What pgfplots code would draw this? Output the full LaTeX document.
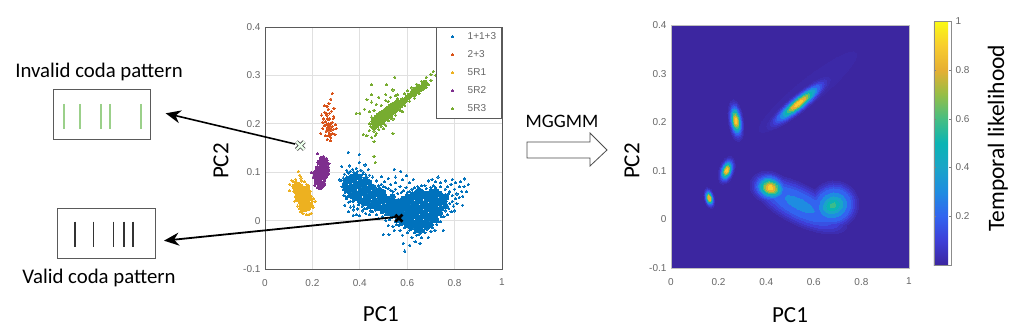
\documentclass[border=0pt]{standalone}
\usepackage{fontspec}
\setmainfont{Carlito}
\newfontfamily\tickfont{Liberation Sans}
\usepackage{pgfplots}
\pgfplotsset{compat=1.18}
\usetikzlibrary{arrows.meta}
\definecolor{cblue}{HTML}{0072BD}
\definecolor{corange}{HTML}{D95319}
\definecolor{cyellow}{HTML}{EDB120}
\definecolor{cpurple}{HTML}{7E2F8E}
\definecolor{cgreen}{HTML}{77AC30}
\definecolor{navy}{RGB}{60,38,160}
\definecolor{tickgray}{HTML}{666666}
\definecolor{framegray}{HTML}{5A5A5A}
\definecolor{barsgreen}{HTML}{9BD08A}

\pgfplotsset{
  colormap={parula}{
    rgb255(0)=(60,38,160) rgb255(1)=(62,62,215) rgb255(2)=(50,100,240)
    rgb255(3)=(30,140,225) rgb255(4)=(25,165,200) rgb255(5)=(10,180,180)
    rgb255(6)=(70,190,130) rgb255(7)=(150,190,70) rgb255(8)=(230,175,50)
    rgb255(9)=(248,205,45) rgb255(10)=(250,250,20)
  },
  ticktext/.style={
    tick label style={font=\tickfont\fontsize{10}{11}\selectfont, text=tickgray},
    /pgf/number format/assume math mode=true,
    /pgf/number format/fixed,
  },
  pc axis/.style={
    scale only axis,
    xmin=0, xmax=1, ymin=-0.1, ymax=0.4,
    xtick={0,0.2,0.4,0.6,0.8,1},
    ytick={-0.1,0,0.1,0.2,0.3,0.4},
    major tick length=0pt,
    ticktext,
    xticklabel style={yshift=-6.5pt},
    yticklabel style={xshift=-1pt},
  },
  pts/.style={only marks, mark=*, mark size=1.1pt, mark options={draw=#1, fill=#1, line width=0pt}},
  core/.style={only marks, mark=*, forget plot, mark options={draw=#1, fill=#1, line width=0pt}},
}

% one contour of the likelihood map: x, y, level, semi axes in px, angle
\newcommand{\blob}[6]{%
  \addplot[scatter, only marks, mark=*, mark size=1pt, forget plot, scatter src=explicit,
    scatter/use mapped color={draw=mapped color, fill=mapped color},
    mark options={line width=0pt, rotate=#6, xscale=#4, yscale=#5}] coordinates {(#1,#2) [#3]};
}
\newcommand{\labelfont}{\fontsize{23}{26}\selectfont}

\begin{document}
\begin{tikzpicture}
\path[use as bounding box] (0,0) rectangle (1013pt,329pt);

% left: scatter of the coda clusters
\begin{axis}[
  pc axis,
  at={(265pt,60pt)}, anchor=south west,
  width=237pt, height=242pt,
  axis line style={draw=framegray, line width=0.8pt},
  grid=major,
  major grid style={draw=black!12, line width=0.8pt},
  xlabel={PC1}, ylabel={PC2},
  every axis x label/.style={at={(axis description cs:0.489,-0.186)}, anchor=center, font=\labelfont},
  every axis y label/.style={at={(axis description cs:-0.186,0.446)}, anchor=center, rotate=90, font=\labelfont},
  legend image code/.code={
    \draw[#1] plot coordinates {(13pt,0pt)};
    \path[draw=none] (0pt,0pt) -- (26pt,0pt);
  },
  legend style={
    at={(1,1)}, anchor=north east, draw=framegray, line width=0.8pt,
    font=\tickfont\fontsize{10}{11}\selectfont, text=tickgray,
    row sep=5.6pt, inner xsep=3.5pt, inner ysep=3pt,
    legend cell align=left,
  },
]
% dense part of each cluster, larger marks
\addplot[core=cblue, mark size=2.8pt] coordinates {
(.342,.066)(.338,.076)(.346,.085)
(.362,.052)(.357,.061)(.363,.07)(.358,.081)(.364,.09)
(.378,.046)(.383,.056)(.376,.065)(.382,.075)(.377,.085)(.383,.094)
(.402,.041)(.397,.05)(.403,.061)(.398,.07)(.404,.08)(.399,.09)
(.418,.036)(.423,.045)(.417,.056)(.422,.065)(.418,.075)(.423,.085)
(.442,.031)(.437,.04)(.443,.05)(.438,.06)(.444,.07)(.439,.079)
(.458,.03)(.463,.041)(.457,.05)(.463,.06)(.458,.069)
(.482,.026)(.477,.035)(.483,.046)(.478,.054)(.483,.063)
(.498,.021)(.503,.03)(.497,.04)(.503,.05)(.498,.059)
(.522,.016)(.517,.025)(.523,.035)(.518,.045)
(.538,.011)(.543,.02)(.537,.03)(.543,.04)(.538,.05)
(.562,.001)(.557,.01)(.563,.02)(.558,.03)(.563,.04)
(.578,-.004)(.583,.006)(.577,.015)(.583,.025)(.578,.035)(.583,.045)
(.602,-.009)(.597,0)(.603,.01)(.598,.02)(.603,.03)(.598,.04)(.602,.05)
(.618,-.014)(.623,-.005)(.617,.005)(.623,.015)(.618,.025)(.623,.035)(.618,.045)(.622,.054)
(.642,-.019)(.637,-.01)(.643,0)(.637,.01)(.643,.02)(.638,.03)(.643,.04)(.638,.05)(.642,.059)
(.658,-.02)(.663,-.01)(.657,0)(.663,.01)(.658,.02)(.663,.03)(.657,.04)(.663,.05)(.658,.06)
(.682,-.014)(.677,-.005)(.683,.005)(.677,.015)(.683,.025)(.678,.035)(.683,.045)(.678,.055)
(.698,-.009)(.703,0)(.697,.01)(.703,.02)(.698,.03)(.703,.04)(.698,.05)(.702,.06)
(.722,.001)(.717,.011)(.723,.021)(.718,.03)(.722,.04)(.717,.05)(.722,.06)
(.738,.016)(.743,.026)(.737,.036)(.743,.045)(.738,.055)
(.762,.03)(.757,.04)(.762,.05)
};
\addplot[core=corange, mark size=1.5pt] coordinates {
(.268,.2)(.274,.194)(.279,.188)(.27,.186)(.265,.192)(.277,.2)(.264,.21)(.26,.218)(.272,.21)
};
\addplot[core=cyellow, mark size=3pt] coordinates {
(.135,.074)(.142,.068)(.15,.07)(.148,.06)(.156,.062)(.165,.064)(.14,.055)(.15,.05)(.16,.052)(.17,.054)
(.152,.04)(.162,.042)(.172,.044)(.158,.032)(.168,.034)(.178,.036)(.172,.025)(.182,.027)(.19,.032)(.164,.024)
(.132,.062)(.142,.046)(.127,.07)(.18,.056)(.186,.046)(.176,.066)
};
\addplot[core=cpurple, mark size=2.6pt] coordinates {
(.219,.08)(.228,.078)(.222,.09)(.232,.088)(.24,.09)(.228,.098)(.238,.098)(.248,.1)(.232,.108)(.242,.108)(.252,.11)
(.238,.116)(.248,.118)(.256,.116)(.243,.124)(.252,.125)
(.215,.1)(.222,.108)(.262,.105)(.26,.097)(.25,.09)(.215,.09)(.23,.12)(.245,.076)(.235,.07)
};
\addplot[core=cgreen, mark size=2.6pt] coordinates {
(.46,.193)(.46,.201)(.46,.209)(.47,.197)(.47,.205)(.47,.213)(.48,.201)(.48,.209)(.48,.217)
(.49,.205)(.49,.213)(.49,.221)(.50,.208)(.50,.216)(.50,.224)(.51,.212)(.51,.22)(.51,.228)
(.52,.216)(.52,.224)(.52,.232)(.53,.22)(.53,.228)(.53,.236)(.54,.225)(.54,.232)(.54,.239)
(.55,.229)(.55,.235)(.55,.241)(.56,.234)(.56,.239)(.56,.245)(.57,.238)(.57,.243)(.58,.243)(.58,.248)
(.59,.248)(.60,.254)(.61,.258)(.62,.262)(.63,.262)(.63,.268)(.64,.267)(.64,.272)(.65,.271)(.65,.276)
(.66,.274)(.67,.28)(.675,.285)
};
% whole clusters
\addplot[pts=cblue] coordinates {
(.351,.141)(.398,.137)(.398,.12)(.323,.112)(.358,.113)(.422,.115)(.436,.106)(.345,.104)(.37,.106)(.385,.108)
(.405,.104)(.415,.1)(.335,.096)(.352,.098)(.425,.095)(.44,.094)(.455,.09)(.33,.088)(.322,.083)(.316,.084)
(.333,.076)(.325,.07)(.338,.058)(.333,.052)(.345,.045)(.352,.038)(.337,.032)(.351,.018)(.372,.011)(.4,.01)
(.36,.028)(.375,.03)(.39,.024)(.385,.012)(.41,.02)(.425,.015)(.43,.025)(.44,.012)(.455,.018)(.47,.012)
(.48,.004)(.495,.008)(.51,0)(.525,.002)(.52,-.01)(.54,-.012)(.555,-.008)(.545,-.02)(.57,-.02)(.58,-.03)
(.6,-.025)(.59,-.015)(.499,-.029)(.523,-.029)(.583,-.047)(.59,-.063)(.611,-.051)(.633,-.044)(.654,-.047)(.689,-.035)
(.717,-.02)(.752,-.02)(.62,-.035)(.64,-.03)(.66,-.035)(.675,-.025)(.7,-.022)(.69,-.012)(.725,-.008)(.74,-.002)
(.755,.008)(.77,.012)(.785,.018)(.801,.02)(.775,.025)(.795,.03)(.81,.035)(.834,.032)(.79,.04)(.805,.045)
(.82,.048)(.835,.05)(.85,.06)(.83,.06)(.81,.055)(.79,.052)(.78,.06)(.8,.065)(.82,.07)(.84,.07)
(.858,.075)(.841,.086)(.825,.08)(.805,.078)(.785,.075)(.77,.07)(.79,.085)(.76,.082)(.74,.078)(.72,.08)
(.73,.09)(.705,.085)(.69,.082)(.71,.072)(.675,.072)(.66,.072)(.645,.07)(.626,.085)(.597,.093)(.573,.102)
(.545,.106)(.52,.087)(.492,.091)(.55,.09)(.58,.085)(.61,.078)(.505,.08)(.47,.082)(.49,.075)(.53,.075)
(.55,.078)(.57,.07)(.595,.068)(.62,.065)(.51,.068)(.53,.063)(.55,.065)(.575,.058)(.6,.058)
(.35,.1)(.36,.102)(.375,.1)(.39,.102)(.41,.095)(.43,.09)(.345,.09)(.335,.082)(.33,.065)(.34,.05)
(.35,.05)(.36,.04)(.37,.04)(.375,.022)(.395,.033)(.41,.03)(.42,.025)(.445,.02)(.465,.022)(.49,.016)
(.51,.012)(.53,.005)(.55,-.002)(.565,-.01)(.48,.072)(.5,.07)(.52,.066)(.54,.06)(.56,.056)(.585,.062)
(.61,.06)(.63,.068)(.65,.066)(.68,.066)(.7,.068)(.72,.068)(.74,.07)(.76,.065)(.775,.055)(.77,.045)
(.78,.035)(.76,.02)(.745,.008)(.73,-.002)(.705,-.015)(.61,-.02)(.63,-.025)(.65,-.028)(.67,-.02)
};
\addlegendentry{1+1+3}
\addplot[pts=corange] coordinates {
(.284,.263)(.278,.251)(.253,.237)(.267,.23)(.291,.232)(.26,.221)(.239,.218)(.288,.211)(.246,.21)(.252,.224)
(.272,.222)(.281,.226)(.243,.203)(.256,.204)(.283,.203)(.296,.198)(.3,.19)(.29,.189)(.25,.196)(.258,.185)
(.255,.175)(.27,.175)(.285,.18)(.295,.178)(.277,.172)(.275,.165)(.263,.168)(.235,.18)(.244,.19)(.29,.215)
(.262,.236)(.27,.242)(.258,.198)(.284,.195)(.272,.18)(.28,.178)
};
\addlegendentry{2+3}
\addplot[pts=cyellow] coordinates {
(.14,.101)(.147,.094)(.152,.088)(.105,.075)(.112,.083)(.118,.07)(.122,.06)(.103,.062)(.128,.05)(.125,.04)
(.135,.042)(.138,.03)(.145,.025)(.15,.018)(.16,.015)(.175,.012)(.186,.013)(.195,.015)(.203,.028)(.212,.04)
(.2,.04)(.195,.05)(.19,.06)(.185,.072)(.175,.075)(.165,.08)(.155,.082)(.13,.085)(.122,.08)(.205,.045)
};
\addlegendentry{5R1}
\addplot[pts=cpurple] coordinates {
(.223,.138)(.235,.13)(.245,.132)(.26,.128)(.238,.12)(.228,.11)(.222,.105)(.216,.1)(.205,.098)(.195,.1)
(.203,.09)(.212,.085)(.21,.073)(.22,.068)(.23,.066)(.24,.07)(.25,.082)(.258,.09)(.262,.1)(.268,.11)
(.27,.118)(.262,.124)(.217,.092)(.235,.075)(.245,.08)
};
\addlegendentry{5R2}
\addplot[pts=cgreen] coordinates {
(.548,.296)(.513,.281)(.54,.27)(.449,.281)(.45,.26)(.43,.25)(.45,.245)(.48,.255)(.51,.26)(.55,.258)
(.56,.26)(.53,.255)(.51,.248)(.47,.24)(.44,.225)(.42,.23)(.4,.222)(.385,.222)(.46,.228)(.49,.238)
(.52,.246)(.56,.252)(.59,.262)(.6,.268)(.62,.274)(.64,.282)(.66,.288)(.68,.296)(.7,.302)(.71,.308)
(.69,.281)(.67,.272)(.65,.262)(.63,.253)(.61,.247)(.59,.238)(.57,.228)(.55,.218)(.54,.21)(.52,.206)
(.51,.197)(.5,.19)(.48,.188)(.47,.18)(.46,.185)(.44,.186)(.43,.175)(.415,.178)(.45,.172)(.46,.163)
(.465,.176)(.49,.195)(.53,.212)(.58,.225)(.54,.18)(.5,.2)(.72,.3)(.7,.29)(.68,.275)(.44,.2)
(.45,.214)(.45,.205)(.445,.195)(.46,.133)(.465,.12)
};
\addlegendentry{5R3}
% the two patterns marked on the map
\addplot[only marks, mark=x, mark size=5.5pt, forget plot, mark options={draw=black!75, line width=3.8pt}] coordinates {(.149,.155)};
\addplot[only marks, mark=x, mark size=5.5pt, forget plot, mark options={draw=green!8, line width=2.3pt}] coordinates {(.149,.155)};
\addplot[only marks, mark=x, mark size=5pt, forget plot, mark options={draw=black, line width=2.6pt}] coordinates {(.565,.005)};
\end{axis}

% right: temporal likelihood map
\begin{axis}[
  pc axis,
  at={(671pt,61pt)}, anchor=south west,
  width=238pt, height=243pt,
  axis line style={draw=black!25, line width=0.8pt},
  axis background/.style={fill=navy},
  point meta min=0, point meta max=1,
  xlabel={PC1}, ylabel={PC2},
  every axis x label/.style={at={(axis description cs:0.5,-0.193)}, anchor=center, font=\labelfont},
  every axis y label/.style={at={(axis description cs:-0.164,0.44)}, anchor=center, rotate=90, font=\labelfont},
  colorbar,
  colorbar style={
    at={(1.105,1.016)}, anchor=north west,
    width=17pt, height=244pt,
    ytick={0.2,0.4,0.6,0.8,1},
    major tick length=2pt,
    ticktext,
    ylabel={Temporal likelihood},
    every axis y label/.style={at={(axis description cs:3.75,0.52)}, anchor=center, rotate=90, font=\fontsize{23.5}{26}\selectfont},
    axis line style={draw=black!45, line width=0.8pt},
    yticklabel style={xshift=1pt},
  },
]
\blob{0.575}{0.262}{0.012}{62}{12}{39}
\blob{0.161}{0.044}{0.03}{10.5}{5}{103}
\blob{0.234}{0.101}{0.03}{14.5}{7.5}{72}
\blob{0.273}{0.203}{0.03}{21}{7.5}{98}
\blob{0.536}{0.239}{0.03}{40}{9}{39}
\blob{0.418}{0.065}{0.03}{21}{16}{-20}
\blob{0.681}{0.029}{0.03}{26}{24}{25}
\blob{0.541}{0.031}{0.03}{52}{20}{-27}
\blob{0.161}{0.044}{0.06}{9.4}{4.5}{103}
\blob{0.234}{0.101}{0.06}{12.9}{6.7}{72}
\blob{0.273}{0.203}{0.06}{18.8}{6.7}{98}
\blob{0.536}{0.239}{0.06}{35.7}{8}{39}
\blob{0.418}{0.065}{0.06}{18.8}{14.3}{-20}
\blob{0.681}{0.029}{0.06}{24}{22}{25}
\blob{0.541}{0.031}{0.06}{48}{18}{-27}
\blob{0.161}{0.044}{0.1}{8.5}{4}{103}
\blob{0.234}{0.101}{0.1}{11.7}{6}{72}
\blob{0.273}{0.203}{0.1}{16.9}{6}{98}
\blob{0.536}{0.239}{0.1}{32.2}{7.3}{39}
\blob{0.418}{0.065}{0.1}{16.9}{12.9}{-20}
\blob{0.681}{0.029}{0.1}{22}{20}{25}
\blob{0.541}{0.031}{0.1}{44}{16}{-27}
\blob{0.161}{0.044}{0.15}{7.7}{3.7}{103}
\blob{0.234}{0.101}{0.15}{10.6}{5.5}{72}
\blob{0.273}{0.203}{0.15}{15.3}{5.5}{98}
\blob{0.536}{0.239}{0.15}{29.2}{6.6}{39}
\blob{0.418}{0.065}{0.15}{15.3}{11.7}{-20}
\blob{0.681}{0.029}{0.15}{20}{18}{25}
\blob{0.541}{0.031}{0.15}{38}{13.5}{-27}
\blob{0.161}{0.044}{0.2}{7}{3.4}{103}
\blob{0.234}{0.101}{0.2}{9.7}{5}{72}
\blob{0.273}{0.203}{0.2}{14.1}{5}{98}
\blob{0.536}{0.239}{0.2}{26.8}{6}{39}
\blob{0.418}{0.065}{0.2}{14.1}{10.7}{-20}
\blob{0.681}{0.029}{0.2}{18}{16}{25}
\blob{0.541}{0.031}{0.2}{32}{11}{-27}
\blob{0.161}{0.044}{0.3}{6.1}{2.9}{103}
\blob{0.234}{0.101}{0.3}{8.4}{4.3}{72}
\blob{0.273}{0.203}{0.3}{12.1}{4.3}{98}
\blob{0.536}{0.239}{0.3}{23.1}{5.2}{39}
\blob{0.418}{0.065}{0.3}{12.1}{9.2}{-20}
\blob{0.681}{0.029}{0.3}{14}{12}{25}
\blob{0.541}{0.031}{0.3}{16}{5}{-27}
\blob{0.161}{0.044}{0.4}{5.3}{2.5}{103}
\blob{0.234}{0.101}{0.4}{7.3}{3.8}{72}
\blob{0.273}{0.203}{0.4}{10.5}{3.8}{98}
\blob{0.536}{0.239}{0.4}{20}{4.5}{39}
\blob{0.418}{0.065}{0.4}{10.5}{8}{-20}
\blob{0.681}{0.029}{0.4}{10}{8}{25}
\blob{0.161}{0.044}{0.5}{4.5}{2.2}{103}
\blob{0.234}{0.101}{0.5}{6.2}{3.2}{72}
\blob{0.273}{0.203}{0.5}{9.1}{3.2}{98}
\blob{0.536}{0.239}{0.5}{17.2}{3.9}{39}
\blob{0.418}{0.065}{0.5}{9.1}{6.9}{-20}
\blob{0.681}{0.029}{0.5}{6.5}{5}{25}
\blob{0.681}{0.029}{0.58}{3}{2.2}{25}
\blob{0.161}{0.044}{0.6}{3.8}{1.8}{103}
\blob{0.234}{0.101}{0.6}{5.3}{2.7}{72}
\blob{0.273}{0.203}{0.6}{7.7}{2.7}{98}
\blob{0.536}{0.239}{0.6}{14.6}{3.3}{39}
\blob{0.418}{0.065}{0.6}{7.7}{5.8}{-20}
\blob{0.161}{0.044}{0.7}{3.1}{1.5}{103}
\blob{0.234}{0.101}{0.7}{4.3}{2.2}{72}
\blob{0.273}{0.203}{0.7}{6.2}{2.2}{98}
\blob{0.536}{0.239}{0.7}{11.9}{2.7}{39}
\blob{0.418}{0.065}{0.7}{6.2}{4.8}{-20}
\blob{0.161}{0.044}{0.8}{2.3}{1.1}{103}
\blob{0.234}{0.101}{0.8}{3.2}{1.7}{72}
\blob{0.273}{0.203}{0.8}{4.7}{1.7}{98}
\blob{0.536}{0.239}{0.8}{8.9}{2}{39}
\blob{0.418}{0.065}{0.8}{4.7}{3.6}{-20}
\blob{0.234}{0.101}{0.9}{1.8}{0.9}{72}
\blob{0.273}{0.203}{0.9}{2.6}{0.9}{98}
\blob{0.536}{0.239}{0.9}{5}{1.1}{39}
\blob{0.418}{0.065}{0.9}{2.6}{2}{-20}
\end{axis}

\begin{scope}[x=1pt, y=-1pt, yshift=329pt]
  \node[font=\fontsize{20.8}{24}\selectfont] at (99,72) {Invalid coda pattern};
  \node[font=\fontsize{20.8}{24}\selectfont] at (99,278) {Valid coda pattern};
  \draw[framegray, line width=1pt] (53,90) rectangle (150.7,140);
  \draw[framegray, line width=1pt] (57,209) rectangle (155,259);
  \foreach \bx in {64.3,80,101,110.3,141.3}
    \draw[barsgreen, line width=1.8pt] (\bx,104) -- (\bx,129);
  \foreach \bx in {74.7,93.3,113.3,123.7,133}
    \draw[black!80, line width=1.6pt] (\bx,221.7) -- (\bx,247.3);
  \draw[line width=1.6pt, -{Stealth[length=15pt, width=13pt]}] (295,144) -- (165.7,113.3);
  \draw[line width=1.8pt, -{Stealth[length=15pt, width=13pt]}] (396,217) -- (164,240.7);
  \node[font=\fontsize{19}{24}\selectfont] at (562,121) {MGGMM};
  \draw[black!70, line width=0.8pt, fill=white]
    (527,142) -- (590,142) -- (590,133) -- (607,150) -- (590,166) -- (590,158) -- (527,158) -- cycle;
\end{scope}
\end{tikzpicture}
\end{document}
